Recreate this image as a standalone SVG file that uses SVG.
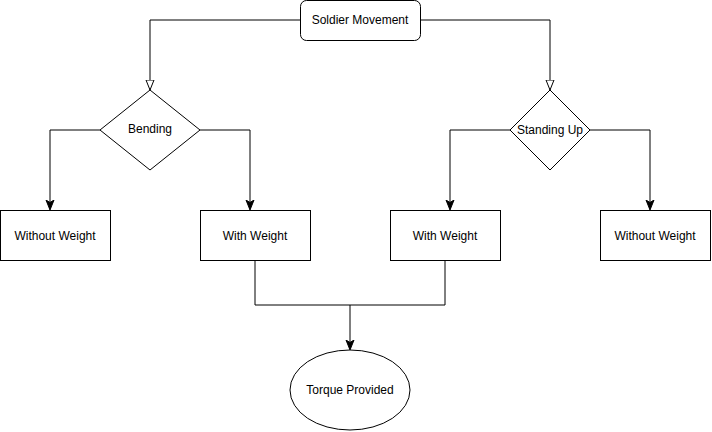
<svg xmlns="http://www.w3.org/2000/svg" width="712" height="432" viewBox="0 0 712 432">
<defs>
<marker id="open" viewBox="0 0 10 10" refX="10" refY="5" markerWidth="10" markerHeight="10" markerUnits="userSpaceOnUse" orient="auto">
<path d="M0,1 L10,5 L0,9 Z" fill="#fff" stroke="#000" stroke-width="1"/>
</marker>
<marker id="fill" viewBox="0 0 10 10" refX="9" refY="5" markerWidth="10" markerHeight="10" markerUnits="userSpaceOnUse" orient="auto">
<path d="M0,1 L10,5 L0,9 L2.5,5 Z" fill="#000" stroke="#000" stroke-width="1"/>
</marker>
</defs>
<style>
.shape{fill:#fff;stroke:#000;stroke-width:1}
.edge{fill:none;stroke:#000;stroke-width:1}
text{font-family:"Liberation Sans",Arial,sans-serif;font-size:12px;fill:#000;text-anchor:middle;dominant-baseline:central}
</style>
<rect width="712" height="432" fill="#fff"/>
<g id="connectors">
<path class="edge" d="M300,20 H150 V90" marker-end="url(#open)"/>
<path class="edge" d="M420,20 H550 V90" marker-end="url(#open)"/>
<path class="edge" d="M100,130 H50 V209" marker-end="url(#fill)"/>
<path class="edge" d="M200,130 H250 V209" marker-end="url(#fill)"/>
<path class="edge" d="M510,130 H450 V209" marker-end="url(#fill)"/>
<path class="edge" d="M590,130 H650 V209" marker-end="url(#fill)"/>
<path class="edge" d="M255,260 V305 H445 V260"/>
<path class="edge" d="M350,305 V349" marker-end="url(#fill)"/>
</g>
<g id="soldier-movement">
<rect class="shape" x="300.5" y="0.5" width="120" height="40" rx="6"/>
<text x="360" y="20">Soldier Movement</text>
</g>
<g id="bending">
<path class="shape" d="M150,90 L200,130 L150,170 L100,130 Z"/>
<text x="150" y="129">Bending</text>
</g>
<g id="standing-up">
<path class="shape" d="M550,90 L590,130 L550,170 L510,130 Z"/>
<text x="550" y="130">Standing Up</text>
</g>
<g id="without-weight-left">
<rect class="shape" x="0.5" y="210.5" width="110" height="50"/>
<text x="55" y="236">Without Weight</text>
</g>
<g id="with-weight-left">
<rect class="shape" x="200.5" y="210.5" width="110" height="50"/>
<text x="255" y="236">With Weight</text>
</g>
<g id="with-weight-right">
<rect class="shape" x="390.5" y="210.5" width="110" height="50"/>
<text x="445" y="236">With Weight</text>
</g>
<g id="without-weight-right">
<rect class="shape" x="600.5" y="210.5" width="110" height="50"/>
<text x="655" y="236">Without Weight</text>
</g>
<g id="torque-provided">
<ellipse class="shape" cx="350" cy="390" rx="60" ry="40"/>
<text x="350" y="390">Torque Provided</text>
</g>
</svg>
